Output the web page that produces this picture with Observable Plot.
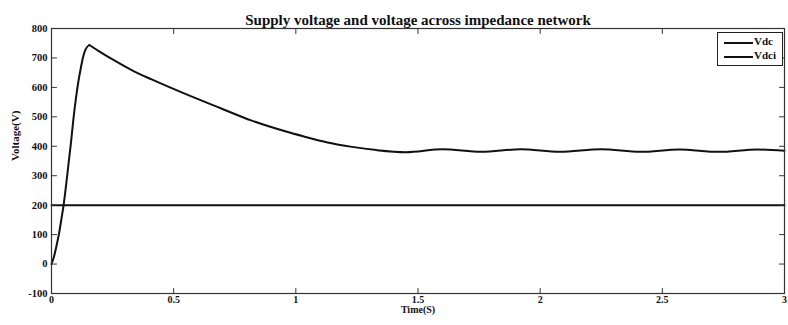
<!DOCTYPE html>
<html><head><meta charset="utf-8">
<script src="https://cdn.jsdelivr.net/npm/d3@7"></script>
<script src="https://cdn.jsdelivr.net/npm/@observablehq/plot@0.6"></script>
<style>
body{margin:0;background:#fff;}
#wrap{position:relative;width:788px;height:325px;}
.legend{position:absolute;left:717px;top:32px;width:64px;height:32px;border:1px solid #222;background:#fff;font:bold 11px "Liberation Serif",serif;color:#111;}
.legend .row{position:absolute;left:0;height:12px;}
.legend .sw{position:absolute;left:6px;top:6px;width:29px;height:0;border-top:2px solid #111;}
.legend .lab{position:absolute;left:36px;top:-1px;}
</style>
</head><body>
<div id="wrap"></div>
<script>
const title = "Supply voltage and voltage across impedance network";
const xLabel = "Time(S)";
const yLabel = "Voltage(V)";
const seriesNames = ["Vdc", "Vdci"];
const xTicks = [0, 0.5, 1, 1.5, 2, 2.5, 3];
const yTicks = [-100, 0, 100, 200, 300, 400, 500, 600, 700, 800];

// Vdc (supply voltage)
const vdcTime = [0, 3];
const vdc = [200, 200];

// Vdci (voltage across impedance network)
const vdciTime = [0, 0.01, 0.02, 0.03, 0.04, 0.05, 0.06, 0.07, 0.08, 0.09, 0.10, 0.11, 0.12, 0.13, 0.14, 0.155,
  0.19, 0.25, 0.33, 0.41, 0.55, 0.69, 0.82, 0.96, 1.03, 1.13, 1.23, 1.33, 1.45, 1.60, 1.76, 1.92, 2.08, 2.25, 2.41, 2.57, 2.73, 2.89, 3.0];
const vdci = [0, 25, 60, 100, 150, 203, 270, 343, 415, 495, 563, 620, 666, 706, 730, 744,
  725, 695, 658, 627, 577, 530, 487, 450, 434, 413, 398, 387, 380, 390, 381, 390, 381, 390, 381, 389, 381, 389, 385];
const peakTime = 0.155;

const vdcData = vdcTime.map((t, i) => ({t, v: vdc[i]}));
const vdciData = vdciTime.map((t, i) => ({t, v: vdci[i]}));
const riseData = vdciData.filter(d => d.t <= peakTime);
const decayData = vdciData.filter(d => d.t >= peakTime);

const tickShape = {draw(ctx, l) { ctx.moveTo(0, 0); ctx.lineTo(0, -l); }};
const tickStyle = {length: 5, anchor: "start", shape: tickShape, stroke: "#333", strokeWidth: 1};

const chart = Plot.plot({
  width: 788,
  height: 325,
  marginTop: 28,
  marginBottom: 32,
  marginLeft: 51,
  marginRight: 4,
  style: {fontFamily: "'Liberation Serif', serif", fontSize: "10px", fontWeight: "bold", background: "#fff", color: "#111"},
  x: {domain: [0, 3]},
  y: {domain: [-100, 800]},
  marks: [
    Plot.line(vdcData, {x: "t", y: "v", stroke: "#111", strokeWidth: 2}),
    Plot.line(riseData, {x: "t", y: "v", stroke: "#111", strokeWidth: 2, curve: "monotone-x"}),
    Plot.line(decayData, {x: "t", y: "v", stroke: "#111", strokeWidth: 2, curve: "monotone-x"}),
    Plot.frame({stroke: "#333", strokeWidth: 1.2}),
    Plot.vector(xTicks, {x: d => d, frameAnchor: "bottom", rotate: 0, ...tickStyle}),
    Plot.vector(xTicks, {x: d => d, frameAnchor: "top", rotate: 180, ...tickStyle}),
    Plot.vector(yTicks, {y: d => d, frameAnchor: "left", rotate: 90, ...tickStyle}),
    Plot.vector(yTicks, {y: d => d, frameAnchor: "right", rotate: -90, ...tickStyle}),
    Plot.axisX(xTicks, {tickSize: 0, tickPadding: 2, tickFormat: d => String(d), label: null, fontWeight: "bold", fontSize: 10}),
    Plot.axisY(yTicks, {tickSize: 0, tickPadding: 4, tickFormat: d => String(d), label: null, fontWeight: "bold", fontSize: 10.5}),
    Plot.text([title], {text: d => d, frameAnchor: "top", dy: -14.5, fontSize: 15, fontWeight: "bold", fill: "#111"}),
    Plot.text([xLabel], {text: d => d, frameAnchor: "bottom", dy: 19.5, fontSize: 10, fontWeight: "bold", fill: "#111"}),
    Plot.text([yLabel], {text: d => d, frameAnchor: "left", dx: -36.5, rotate: -90, fontSize: 11, fontWeight: "bold", fill: "#111"})
  ]
});
const wrap = document.getElementById("wrap");
wrap.appendChild(chart);
const leg = document.createElement("div");
leg.className = "legend";
seriesNames.forEach((name, i) => {
  const row = document.createElement("div");
  row.className = "row";
  row.style.top = (3 + i * 14) + "px";
  row.style.width = "100%";
  row.innerHTML = `<div class="sw"></div><div class="lab">${name}</div>`;
  leg.appendChild(row);
});
wrap.appendChild(leg);
</script>
</body></html>
